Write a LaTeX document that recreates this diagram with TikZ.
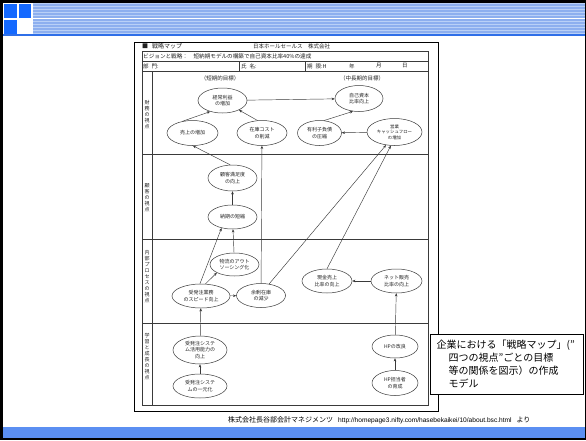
\documentclass[tikz,border=0pt]{standalone}
\usepackage{fontspec}
\setmainfont{Noto Sans CJK JP}
\newfontfamily\latinsans{Liberation Sans}
\usetikzlibrary{shapes.geometric,arrows.meta}
\definecolor{scan}{HTML}{3A3A3A}
\definecolor{scantext}{HTML}{222222}
\definecolor{bannerbg}{HTML}{B9D0F7}
\definecolor{bannerline}{HTML}{8DAFEF}
\definecolor{bannerdark}{HTML}{2F6FE8}
\definecolor{squareblue}{HTML}{1469FF}
\definecolor{footblue}{HTML}{5B8FF2}
\begin{document}
\begin{tikzpicture}[x=1pt,y=-1pt,
  oval/.style={ellipse, draw=scan, line width=0.5pt, inner sep=0pt, align=center,
    font=\fontsize{5}{6.5}\selectfont, text=scantext},
  arr/.style={draw=scan, line width=0.45pt, -{Stealth[length=3.2pt,width=2.6pt]}},
  rowlabel/.style={align=center, inner sep=0pt, font=\fontsize{5}{6}\selectfont, text=scantext},
  doctext/.style={anchor=west, inner sep=0pt, font=\fontsize{5.5}{6.5}\selectfont, text=scantext},
  tline/.style={draw=scan, line width=0.45pt}
]
\useasboundingbox (0,0) rectangle (586,440);
% slide frame
\fill[black] (0,0) rectangle (586,440);
\fill[white] (3,3) rectangle (585,437);
% banner
\fill[bannerbg] (3,3) rectangle (585,34);
\foreach \yy in {5,8,...,32} {\draw[bannerline, line width=1.1pt] (33,\yy) -- (585,\yy);}
\draw[white, line width=1pt] (33,18.5) -- (585,18.5);
\fill[white] (3,3) rectangle (33,35);
\fill[bannerdark] (3,33.5) rectangle (585,36);
\fill[squareblue] (4,4) rectangle (17,18);
\fill[squareblue] (19,4) rectangle (31,18);
\fill[squareblue] (4,20) rectangle (17,34);
% footer
\fill[footblue] (3,427) rectangle (585,437.5);
\node[anchor=west, inner sep=0pt, font=\fontsize{7}{8}\selectfont, text=black] (credit) at (228,420.5)
  {株式会社長谷部会計マネジメンツ\hspace{5pt}{\latinsans\fontsize{6.6}{8}\selectfont http://homepage3.nifty.com/hasebekaikei/10/about.bsc.html}\hspace{5pt}より};

% document frame
\draw[black, line width=0.9pt] (134,42) rectangle (438,411);
\draw[tline] (142,51) rectangle (428,405);
\draw[tline] (142,61) -- (428,61);
\draw[tline] (142,71) -- (428,71);
\draw[tline] (239,61) -- (239,71);
\draw[tline] (305,61) -- (305,71);
\draw[tline] (152,71) -- (152,405);
\draw[tline] (142,154) -- (428,154);
\draw[tline] (142,239) -- (428,239);
\draw[tline] (142,323) -- (428,323);

% header texts
\node[doctext, font=\fontsize{6}{7}\selectfont] (title) at (142,46.5) {■\hspace{4pt}戦略マップ};
\node[doctext] (company) at (253,46.5) {日本ホールセールス　株式会社};
\node[doctext, font=\fontsize{5.6}{6.5}\selectfont] (vision) at (143,56.5) {ビジョンと戦略：　短納期モデルの構築で自己資本比率40\%の達成};
\node[doctext] (bumon) at (143,66) {部\hspace{3pt}門:};
\node[doctext] (shimei) at (241,66) {氏\hspace{3pt}名:};
\node[doctext] (kigen) at (307,66) {期\hspace{3pt}限:H};
\node[doctext] (nen) at (349,66) {年};
\node[doctext] (tsuki) at (376,66) {月};
\node[doctext] (hi) at (402,66) {日};
\node[doctext, anchor=center] (tanki) at (220,78) {（短期的目標）};
\node[doctext, anchor=center] (chuki) at (362,78) {（中長期的目標）};

% row labels
\node[rowlabel] (lab1) at (147,115) {財\\務\\の\\視\\点};
\node[rowlabel] (lab2) at (147,198) {顧\\客\\の\\視\\点};
\node[rowlabel] (lab3) at (147,277) {内\\部\\プ\\ロ\\セ\\ス\\の\\視\\点};
\node[rowlabel] (lab4) at (147,357) {学\\習\\と\\成\\長\\の\\視\\点};

% ellipses
\node[oval, minimum width=49pt, minimum height=25pt] (keijo) at (222.5,100.5) {経常利益\\の増加};
\node[oval, minimum width=48pt, minimum height=26pt] (jiko) at (359,98.5) {自己資本\\比率向上};
\node[oval, minimum width=51pt, minimum height=25pt] (uriage) at (192.5,133) {売上の増加};
\node[oval, minimum width=50pt, minimum height=25pt] (zaiko) at (262,133) {在庫コスト\\の削減};
\node[oval, minimum width=44pt, minimum height=25pt] (yuri) at (319.5,133) {有利子負債\\の圧縮};
\node[oval, minimum width=55pt, minimum height=27pt, font=\fontsize{4.4}{5.6}\selectfont] (eigyo) at (394.5,132) {営業\\キャッシュフロー\\の増加};
\node[oval, minimum width=49pt, minimum height=26pt] (kokyaku) at (232.5,178) {顧客満足度\\の向上};
\node[oval, minimum width=49pt, minimum height=24pt] (noki) at (232.5,217) {納期の短縮};
\node[oval, minimum width=49pt, minimum height=23pt] (butsuryu) at (234.5,264.5) {物流のアウト\\ソーシング化};
\node[oval, minimum width=58pt, minimum height=24pt] (juhatchu) at (201,296) {受発注業務\\のスピード向上};
\node[oval, minimum width=49pt, minimum height=24pt] (yojo) at (261,295.5) {余剰在庫\\の減少};
\node[oval, minimum width=50pt, minimum height=24pt] (genkin) at (327,281) {現金売上\\比率の向上};
\node[oval, minimum width=51pt, minimum height=24pt] (net) at (396.5,281) {ネット販売\\比率の向上};
\node[oval, minimum width=54pt, minimum height=28pt] (katsuyo) at (200,350) {受発注システ\\ム活用能力の\\向上};
\node[oval, minimum width=54pt, minimum height=24pt] (ichigen) at (200,386) {受発注システ\\ムの一元化};
\node[oval, minimum width=46pt, minimum height=23pt] (hp) at (395,346.5) {HPの改良};
\node[oval, minimum width=46pt, minimum height=25pt] (tanto) at (395,383) {HP担当者\\の育成};

% arrows
\draw[arr] (keijo) -- (jiko);
\draw[arr] (uriage.130) -- (keijo.222);
\draw[arr] (zaiko.110) -- (keijo.330);
\draw[arr] (yuri.70) -- (jiko.245);
\draw[arr] (eigyo) -- (yuri);
\draw[arr] (kokyaku.100) -- (uriage.272);
\draw[arr] (noki) -- (kokyaku);
\draw[arr] (butsuryu) -- (noki);
\draw[arr] (juhatchu.95) -- (noki.225);
\draw[arr] (juhatchu.70) -- (butsuryu.205);
\draw[arr] (juhatchu) -- (yojo);
\draw[arr] (yojo) -- (zaiko);
\draw[arr] (yojo.55) -- (eigyo.237);
\draw[arr] (genkin.north) -- (eigyo.255);
\draw[arr] (net) -- (genkin);
\draw[arr] (ichigen) -- (katsuyo);
\draw[arr] (katsuyo) -- (juhatchu);
\draw[arr] (tanto) -- (hp);
\draw[arr] (hp) -- (net);

% callout
\draw[black, fill=white, line width=0.8pt] (430,334) rectangle (583,394);
\node[anchor=north west, inner sep=0pt, align=left, font=\fontsize{10}{13}\selectfont, text=black] (callout) at (436.5,340)
  {企業における「戦略マップ」(”\\\hspace*{1.2em}四つの視点”ごとの目標\\\hspace*{1.2em}等の関係を図示）の作成\\\hspace*{1.2em}モデル};
\end{tikzpicture}
\end{document}
